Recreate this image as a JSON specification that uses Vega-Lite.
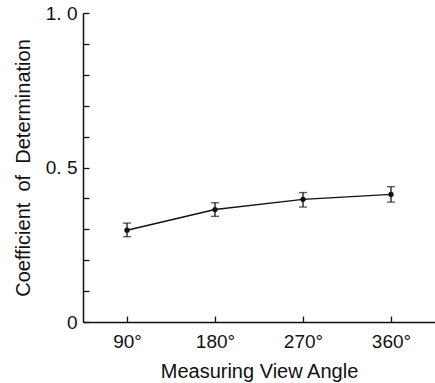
{
  "$schema": "https://vega.github.io/schema/vega-lite/v6.json",
  "width": 352,
  "height": 309,
  "autosize": "none",
  "padding": {"left": 83, "top": 13, "right": 0, "bottom": 61},
  "background": "white",
  "config": {
    "view": {"stroke": null},
    "font": "Liberation Sans",
    "axis": {"grid": false, "domainColor": "#111", "tickColor": "#111", "domainWidth": 1.5, "tickWidth": 1.3, "labelColor": "#111", "titleColor": "#111", "labelFont": "Liberation Sans", "titleFont": "Liberation Sans", "titleFontWeight": "normal", "labelOverlap": false}
  },
  "data": {
    "values": [
      {"angle": "90°", "r2": 0.297, "lo": 0.276, "hi": 0.320},
      {"angle": "180°", "r2": 0.364, "lo": 0.342, "hi": 0.386},
      {"angle": "270°", "r2": 0.397, "lo": 0.372, "hi": 0.419},
      {"angle": "360°", "r2": 0.413, "lo": 0.388, "hi": 0.438}
    ]
  },
  "encoding": {
    "x": {
      "field": "angle", "type": "ordinal", "sort": ["90°", "180°", "270°", "360°"],
      "scale": {"type": "point", "padding": 0.5},
      "axis": {"title": "Measuring View Angle", "labelAngle": 0, "labelFontSize": 19, "titleFontSize": 20, "tickSize": -6, "labelPadding": 16, "titlePadding": 10}
    }
  },
  "layer": [
    {
      "mark": {"type": "rule", "color": "#111", "strokeWidth": 1.3},
      "encoding": {
        "y": {"field": "lo", "type": "quantitative", "scale": {"domain": [0, 1], "nice": false},
          "axis": {"title": "Coefficient\u00a0 of\u00a0 Determination", "titleFontSize": 20, "labelFontSize": 19, "tickSize": -6, "labelPadding": 12, "titlePadding": 12,
            "values": [0, 0.1, 0.2, 0.3, 0.4, 0.5, 0.6, 0.7, 0.8, 0.9, 1.0],
            "labelExpr": "datum.value == 1 ? '1. 0' : (datum.value == 0.5 ? '0. 5' : (datum.value == 0 ? '0' : ''))"}},
        "y2": {"field": "hi"}
      }
    },
    {
      "mark": {"type": "tick", "color": "#111", "size": 8, "thickness": 1.3, "orient": "horizontal"},
      "encoding": {"y": {"field": "lo", "type": "quantitative",
          "axis": {"title": "Coefficient\u00a0 of\u00a0 Determination", "titleFontSize": 20, "labelFontSize": 19, "tickSize": -6, "labelPadding": 12, "titlePadding": 12,
            "values": [0, 0.1, 0.2, 0.3, 0.4, 0.5, 0.6, 0.7, 0.8, 0.9, 1.0],
            "labelExpr": "datum.value == 1 ? '1. 0' : (datum.value == 0.5 ? '0. 5' : (datum.value == 0 ? '0' : ''))"}}}
    },
    {
      "mark": {"type": "tick", "color": "#111", "size": 8, "thickness": 1.3, "orient": "horizontal"},
      "encoding": {"y": {"field": "hi", "type": "quantitative",
          "axis": {"title": "Coefficient\u00a0 of\u00a0 Determination", "titleFontSize": 20, "labelFontSize": 19, "tickSize": -6, "labelPadding": 12, "titlePadding": 12,
            "values": [0, 0.1, 0.2, 0.3, 0.4, 0.5, 0.6, 0.7, 0.8, 0.9, 1.0],
            "labelExpr": "datum.value == 1 ? '1. 0' : (datum.value == 0.5 ? '0. 5' : (datum.value == 0 ? '0' : ''))"}}}
    },
    {
      "mark": {"type": "line", "color": "#111", "strokeWidth": 1.4},
      "encoding": {"y": {"field": "r2", "type": "quantitative",
          "axis": {"title": "Coefficient\u00a0 of\u00a0 Determination", "titleFontSize": 20, "labelFontSize": 19, "tickSize": -6, "labelPadding": 12, "titlePadding": 12,
            "values": [0, 0.1, 0.2, 0.3, 0.4, 0.5, 0.6, 0.7, 0.8, 0.9, 1.0],
            "labelExpr": "datum.value == 1 ? '1. 0' : (datum.value == 0.5 ? '0. 5' : (datum.value == 0 ? '0' : ''))"}}}
    },
    {
      "mark": {"type": "point", "filled": true, "color": "#111", "size": 28, "opacity": 1},
      "encoding": {"y": {"field": "r2", "type": "quantitative",
          "axis": {"title": "Coefficient\u00a0 of\u00a0 Determination", "titleFontSize": 20, "labelFontSize": 19, "tickSize": -6, "labelPadding": 12, "titlePadding": 12,
            "values": [0, 0.1, 0.2, 0.3, 0.4, 0.5, 0.6, 0.7, 0.8, 0.9, 1.0],
            "labelExpr": "datum.value == 1 ? '1. 0' : (datum.value == 0.5 ? '0. 5' : (datum.value == 0 ? '0' : ''))"}}}
    }
  ]
}
